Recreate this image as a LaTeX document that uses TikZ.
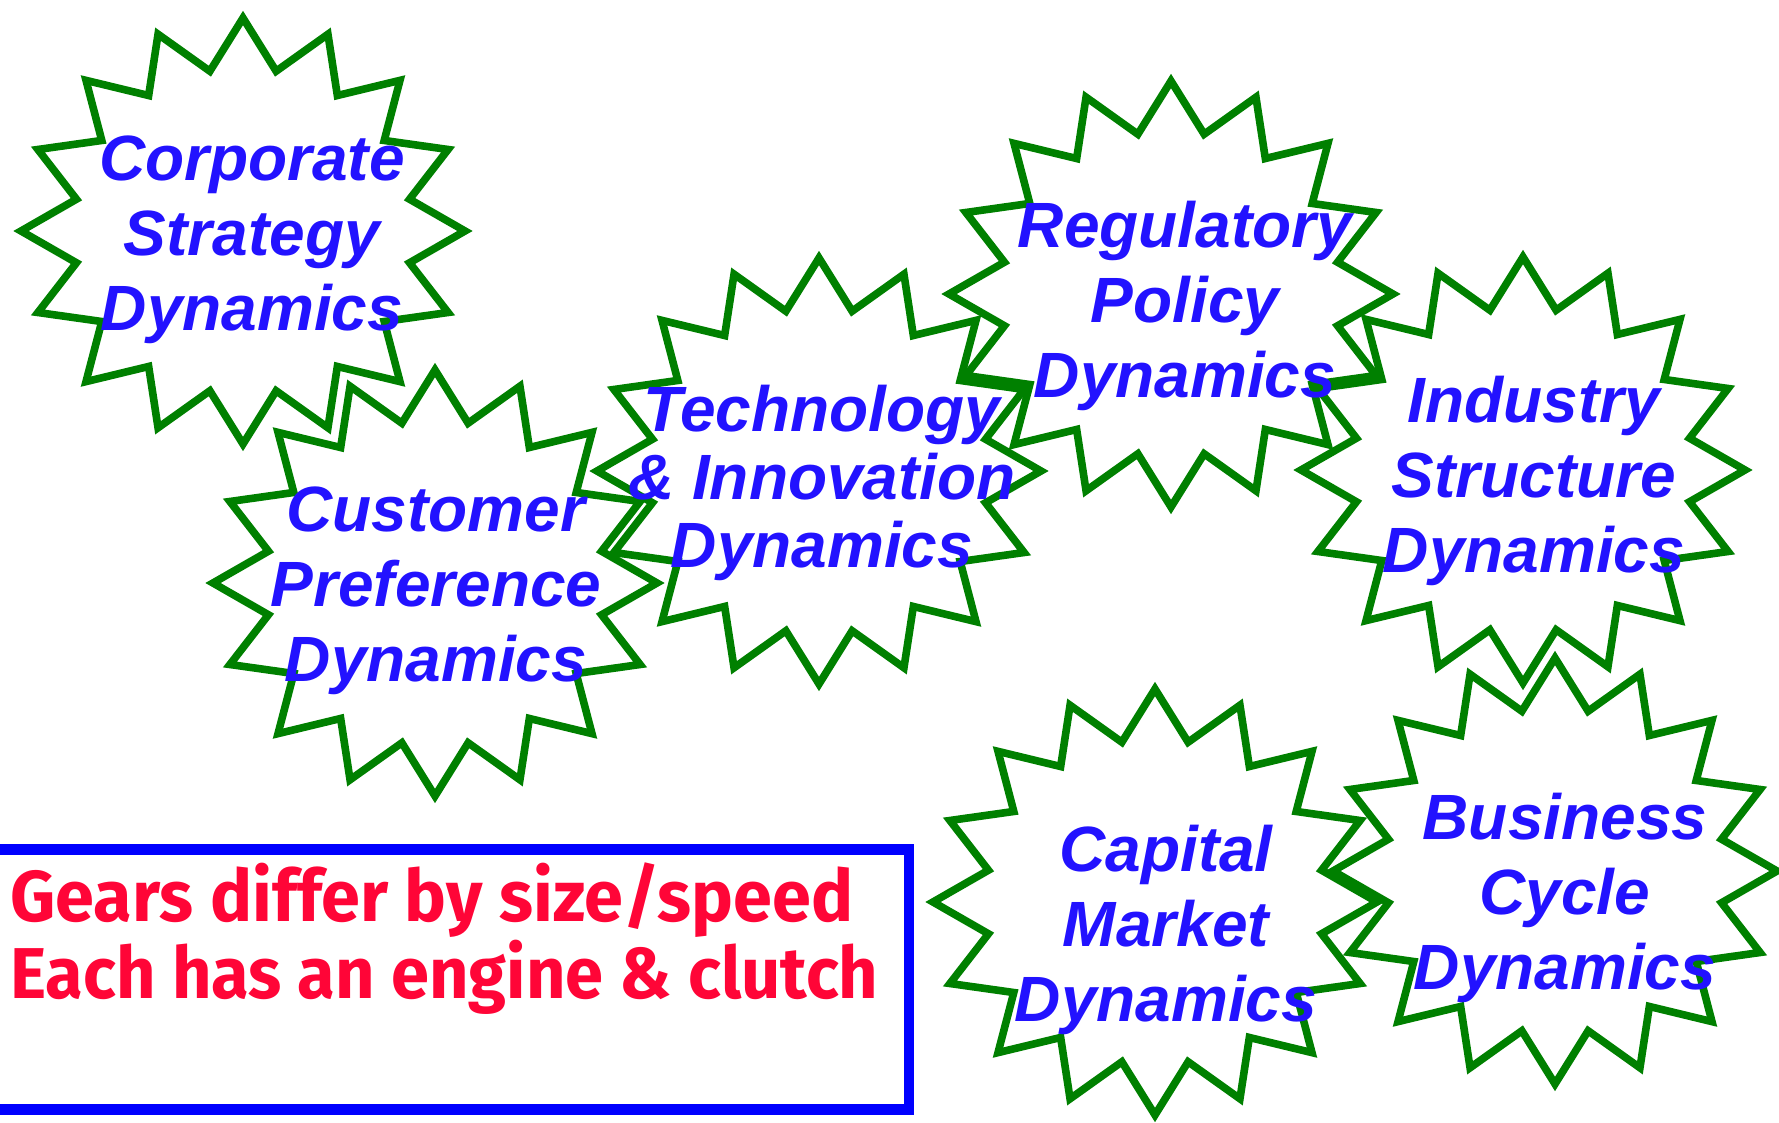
\documentclass[tikz,border=0pt]{standalone}
\usepackage{fontspec}
\usepackage{graphicx}
\usetikzlibrary{calc}
\newfontfamily\labelfont{Liberation Sans}
\newfontfamily\notefont{Fira Sans}
\definecolor{geargreen}{RGB}{0,128,0}
\definecolor{labelblue}{RGB}{34,18,255}
\definecolor{boxblue}{RGB}{0,0,255}
\definecolor{notered}{RGB}{255,5,55}
\newcommand\drawgear[1]{%
  \draw[gearline] ($(#1)+(90:222 and 213)$)
  \foreach \k [evaluate=\k as \r using {mod(\k,2)==1 ? 0.765 : 1}] in {1,...,31}{
    -- ($(#1)+({90+\k*11.25}:{222*\r} and {213*\r})$)} -- cycle;}
\begin{document}
\begin{tikzpicture}[x=0.5pt,y=-0.5pt,
  gearline/.style={draw=geargreen,line width=3.8pt,line join=miter},
  gearlabel/.style={text=labelblue,inner sep=0pt,align=center,
    font=\labelfont\bfseries\itshape\fontsize{32}{37.5}\selectfont},
  notebox/.style={draw=boxblue,line width=5.25pt,inner sep=0pt,
    minimum width=459.5pt,minimum height=130pt},
  notetext/.style={text=notered,inner sep=0pt,anchor=base west,
    font=\notefont\bfseries\fontsize{36}{40}\selectfont}]
\useasboundingbox (0,0) rectangle (1779,1123);
% gear centres
\coordinate (c1) at (243,231);
\coordinate (c2) at (435,583);
\coordinate (c3) at (819,471);
\coordinate (c4) at (1171,294);
\coordinate (c5) at (1523,470);
\coordinate (c6) at (1155,902);
\coordinate (c7) at (1555,871);
\foreach \c in {c1,c2,c3,c4,c5,c6,c7}{\drawgear{\c}}
% labels
\node[gearlabel] (corp) at (252,240) {Corporate\\Strategy\\Dynamics};
\node[gearlabel] (cust) at (436,591) {Customer\\Preference\\Dynamics};
\node[gearlabel,font=\labelfont\bfseries\itshape\fontsize{32}{34}\selectfont] (tech) at (822,483) {Technology\\\& Innovation\\Dynamics};
\node[gearlabel] (reg) at (1185,306) {Regulatory\\Policy\\Dynamics};
\node[gearlabel] (ind) at (1534,481) {Industry\\Structure\\Dynamics};
\node[gearlabel] (cap) at (1166,930) {Capital\\Market\\Dynamics};
\node[gearlabel] (bus) at (1565,898) {Business\\Cycle\\Dynamics};
% note box
\node[notebox] (note) at (449.5,979.5) {};
\node[notetext] (line1) at (10,921) {\resizebox{421.5pt}{\height}{Gears differ by size/speed}};
\node[notetext] (line2) at (10,998) {\resizebox{434pt}{\height}{Each has an engine \& clutch}};
\end{tikzpicture}
\end{document}
